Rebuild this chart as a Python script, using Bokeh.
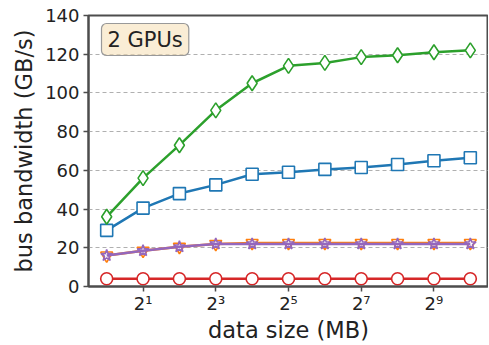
from bokeh.plotting import figure
from bokeh.models import FixedTicker, CustomJSTickFormatter, Range1d, Label
from bokeh.embed import file_html
from bokeh.resources import INLINE

sizes_mb = [1, 2, 4, 8, 16, 32, 64, 128, 256, 512, 1024]
green = [36, 56, 73, 91, 105, 114, 115.5, 118.5, 119.5, 121, 122]
blue = [29, 40.5, 48, 52.5, 58, 59, 60.5, 61.5, 63, 65, 66.5]
orange = [16, 18.5, 20.5, 22, 22.5, 22.5, 22.5, 22.5, 22.5, 22.5, 22.5]
purple = [16, 18.5, 20.5, 22, 22, 22, 22, 22, 22, 22, 22]
red = [4, 4, 4, 4, 4, 4, 4, 4, 4, 4, 4]
x_ticks = [2, 8, 32, 128, 512]
y_ticks = [0, 20, 40, 60, 80, 100, 120, 140]

FONT = "DejaVu Sans"
p = figure(width=488, height=345, x_axis_type="log", output_backend="svg",
           toolbar_location=None,
           x_range=Range1d(2 ** -0.5, 2 ** 10.5), y_range=Range1d(0, 140),
           min_border_left=88, min_border_right=0, min_border_top=15, min_border_bottom=59)

p.outline_line_color = "#4d4d4d"
p.outline_line_width = 2
p.background_fill_color = "white"
p.border_fill_color = "white"

p.xgrid.visible = False
p.ygrid.grid_line_color = "#b0b0b0"
p.ygrid.grid_line_dash = "4 3"
p.ygrid.grid_line_width = 1

p.xaxis.ticker = FixedTicker(ticks=x_ticks, minor_ticks=[])
p.xaxis.formatter = CustomJSTickFormatter(code="""
const e = Math.round(Math.log2(tick));
const sup = '\u2070\u00b9\u00b2\u00b3\u2074\u2075\u2076\u2077\u2078\u2079';
return '2' + String(e).split('').map(d => sup[+d]).join('');
""")
p.yaxis.ticker = FixedTicker(ticks=y_ticks, minor_ticks=[])

for ax in (p.xaxis[0], p.yaxis[0]):
    ax.axis_line_color = "#4d4d4d"
    ax.axis_line_width = 2
    ax.major_tick_line_color = "#4d4d4d"
    ax.major_tick_line_width = 1.5
    ax.major_tick_out = 5
    ax.major_tick_in = 0
    ax.minor_tick_line_color = None
    ax.major_label_text_font = FONT
    ax.major_label_text_font_size = "18px"
    ax.major_label_text_color = "#222222"
    ax.axis_label_text_font = FONT
    ax.axis_label_text_font_size = "22.5px"
    ax.axis_label_text_font_style = "normal"
    ax.axis_label_text_color = "#222222"

p.xaxis.axis_label = "data size (MB)"
p.yaxis.axis_label = "bus bandwidth (GB/s)"
p.xaxis.axis_label_standoff = 0
p.yaxis.axis_label_standoff = 5
p.yaxis.major_label_standoff = 4
p.xaxis.major_label_standoff = 1

series = [
    (blue, "#1f77b4", "square"),
    (orange, "#ff7f0e", "inverted_triangle"),
    (green, "#2ca02c", "diamond"),
    (red, "#d62728", "circle"),
    (purple, "#9467bd", "star"),
]
for ys, col, mk in series:
    p.line(sizes_mb, ys, line_color=col, line_width=2.5)
    p.scatter(sizes_mb, ys, marker=mk, size=12 if mk != "diamond" else 15,
              line_color=col, line_width=1.6, fill_color="white",
              fill_alpha=0.0 if mk == "star" else 1.0)

lab = Label(x=13, y=231, x_units="screen", y_units="screen", text="2 GPUs",
            text_font=FONT, text_font_size="21px", text_color="#222222",
            background_fill_color="#f5deb3", background_fill_alpha=0.55,
            border_line_color="#999999", border_line_width=1.2,
            padding=(6, 4), border_radius=5)
p.add_layout(lab)

open("out.html", "w").write(file_html(p, INLINE))
